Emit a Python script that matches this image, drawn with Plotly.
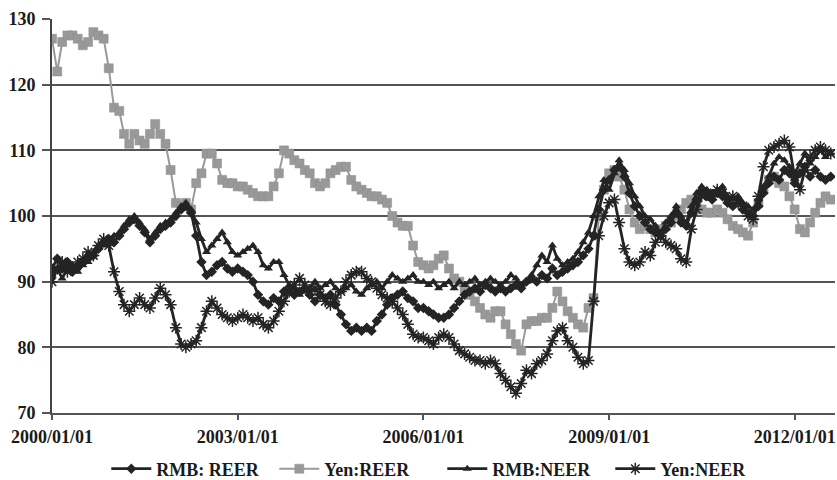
import pandas as pd
import plotly.graph_objects as go

dates = pd.date_range("2000-01-01", periods=152, freq="MS")

rmb_reer = [
    92, 93.5, 92, 93, 91.5, 92.5, 93, 93.5, 94, 95, 96, 96.5,
    96, 97, 98, 99, 99.5, 98.5, 97.5, 96, 97, 98, 98.5, 99,
    100, 101, 101.5, 100.5, 97, 93, 91, 91.5, 92.5, 93, 92, 91.5,
    92, 91.5, 91, 90, 88, 87, 86.5, 87.5, 87, 88.5, 89, 88,
    88.5, 89, 88, 87, 88, 87.5, 88, 86.5, 85, 83.5, 82.5, 83,
    82.5, 83, 82.5, 84, 85, 86.5, 87.5, 88, 88.5, 87.5, 87, 86,
    86, 85.5, 85, 84.5, 84.5, 85, 86, 87, 88, 88.5, 89, 88.5,
    89.5, 89, 88.5, 89, 88.5, 89, 89.5, 89, 90, 90.5, 90, 91,
    90.5, 92, 91, 91.5, 92, 92.5, 93, 94, 95, 97, 101, 104,
    105.5, 107, 107.5, 106, 103.5, 101.5, 100, 99, 98, 97.5, 97, 98,
    99, 100.5, 99, 98.5, 100.5, 102.5, 103.5, 103, 102.5, 103.5, 103, 102,
    101.5, 102.5, 101, 100.5, 100, 101.5, 103.5, 105, 106, 105.5, 107, 106.5,
    105, 106.5, 107.5, 106, 107, 106, 105.5, 106,
]

yen_reer = [
    127, 122, 126.5, 127.5, 127.5, 127, 126, 126.5, 128, 127.5, 127, 122.5,
    116.5, 116, 112.5, 111, 112.5, 111.5, 111, 112.5, 114, 112.5, 111, 107,
    102, 101.5, 102, 101, 105, 106.5, 109.5, 109.5, 108, 105.5, 105, 105,
    104.5, 104.5, 104, 103.5, 103, 103, 103, 104.5, 106.5, 110, 109.5, 108.5,
    108, 107, 106.5, 105, 104.5, 105, 106.5, 107, 107.5, 107.5, 105.5, 104.5,
    104, 103.5, 103, 103, 102.5, 102, 100, 99, 98.5, 98.5, 95.5, 93,
    92.5, 92, 92.5, 93.5, 94, 92, 90.5, 90, 89, 88, 87, 86,
    85, 84.5, 85.5, 85.5, 83.5, 82, 80.5, 79.5, 83.5, 84, 84, 84.5,
    84.5, 86, 88.5, 87, 85.5, 84.5, 83.5, 83, 86, 87.5, 100, 104,
    106.5, 107, 106, 104, 101, 99, 98, 98.5, 98, 97.5, 98, 98.5,
    99, 100, 101, 102, 102.5, 102, 101, 100.5, 100.5, 101, 100.5, 99.5,
    98.5, 98, 97.5, 97, 99, 102, 104, 105.5, 106, 105, 104.5, 103,
    101, 98, 97.5, 99, 100.5, 102, 103, 102.5,
]

rmb_neer = [
    91, 92, 90.5, 92, 92.5, 91.5, 92.5, 93, 94.5, 95.5, 95.5, 96,
    97, 97.5, 98.5, 99.5, 100, 99, 98, 96.5, 97.5, 98.5, 99, 99.5,
    100.5, 101.5, 102, 101, 99, 96.5, 94.5, 95.5, 96.5, 97.5, 96, 94.5,
    94, 94.5, 95, 95.5, 94.5, 92.5, 92, 93, 93, 91, 89.5, 89,
    88, 88.5, 89, 90, 89, 89.5, 90, 89, 88.5, 89, 89.5, 88.5,
    88, 89, 89.5, 90, 89, 90, 91, 90.5, 90, 90.5, 91, 90,
    90, 89.5, 90, 89, 89.5, 90, 89, 90, 89.5, 90, 90.5, 89.5,
    90, 90.5, 90, 89.5, 90, 91, 90.5, 89.5, 90, 91, 92.5, 94,
    93, 95.5, 93.5, 92.5, 93, 93.5, 94.5, 96, 97.5, 100, 103, 105.5,
    104, 106.5, 108.5, 107, 105, 103, 101.5, 100, 99.5, 98.5, 97.5, 99,
    100, 101.5, 100, 99, 101.5, 103.5, 104.5, 104, 103.5, 104, 104.5, 103,
    102.5, 103, 102, 101.5, 101, 102.5, 104.5, 106, 108, 109, 108.5, 107.5,
    106.5, 108, 109.5, 108, 109, 110, 109, 109.5,
]

yen_neer = [
    90, 92, 93, 91.5, 92, 93, 93.5, 94.5, 94, 95.5, 96.5, 95.5,
    91.5, 88.5, 86.5, 85.5, 86.5, 87.5, 86.5, 86, 87.5, 89, 88, 86.5,
    83, 80.5, 80, 80.5, 81, 83, 85.5, 87, 86, 85, 84.5, 84,
    84.5, 85, 84.5, 84, 84.5, 83.5, 83, 84, 85.5, 87, 88.5, 89.5,
    90.5, 89.5, 88.5, 89, 88, 87, 86.5, 87.5, 88.5, 90, 91, 91.5,
    91.5, 90.5, 90, 89, 88, 87.5, 87, 86, 85, 83.5, 82, 81.5,
    81.5, 81, 80.5, 81.5, 82, 81.5, 80.5, 79.5, 79, 78.5, 78, 78,
    77.5, 78, 77.5, 76, 75, 74, 73, 74.5, 76.5, 76, 77.5, 78,
    79, 81, 82.5, 83, 81, 80, 78.5, 77.5, 78, 87, 97, 100,
    102, 102.5, 99, 95, 93, 92.5, 93, 94.5, 94, 96, 97, 96,
    95.5, 95, 93.5, 93, 98, 101, 103, 103.5, 103, 104, 103.5, 102.5,
    103, 102, 101.5, 100, 99.5, 103, 107.5, 110, 110.5, 111, 111.5, 110.5,
    106, 104, 107, 109, 110, 110.5, 110, 109.5,
]

y_ticks = [70, 80, 90, 100, 110, 120, 130]

FONT = "Liberation Serif"
DARK = "#242424"
GRID = "#555555"
TXT = "#1a1a1a"

fig = go.Figure()

fig.add_trace(go.Scatter(
    x=dates, y=yen_reer, name="Yen:REER", mode="lines+markers",
    line=dict(color="#9a9a9a", width=2),
    marker=dict(symbol="square", size=9, color="#999999",
                line=dict(color="#8c8c8c", width=0.5)),
    legendrank=2,
))
fig.add_trace(go.Scatter(
    x=dates, y=rmb_reer, name="RMB: REER", mode="lines+markers",
    line=dict(color=DARK, width=2.8),
    marker=dict(symbol="diamond", size=8, color=DARK),
    legendrank=1,
))
fig.add_trace(go.Scatter(
    x=dates, y=rmb_neer, name="RMB:NEER", mode="lines+markers",
    line=dict(color=DARK, width=2.8),
    marker=dict(symbol="triangle-up", size=8, color=DARK),
    legendrank=3,
))
fig.add_trace(go.Scatter(
    x=dates, y=yen_neer, name="Yen:NEER", mode="lines+markers",
    line=dict(color=DARK, width=2.8),
    marker=dict(symbol="asterisk-open", size=10,
                line=dict(color=DARK, width=1.5)),
    legendrank=4,
))

fig.update_layout(
    width=837, height=480,
    margin=dict(l=52, r=2, t=19, b=67, autoexpand=False),
    paper_bgcolor="white", plot_bgcolor="white",
    font=dict(family=FONT, size=18, color=TXT, weight="bold"),
    showlegend=True,
    legend=dict(orientation="h", xref="container", yref="container",
                x=0.127, xanchor="left",
                y=0.0229, yanchor="middle",
                font=dict(family=FONT, size=18, color=TXT, weight="bold"),
                itemwidth=40, tracegroupgap=0, entrywidth=113),
)

fig.update_xaxes(
    range=["2000-01-01", "2012-08-26"],
    tickmode="linear", tick0="2000-01-01", dtick="M36",
    tickformat="%Y/%m/%d",
    ticks="outside", ticklen=5, tickcolor=GRID, tickwidth=1.5,
    showgrid=False, showline=True, linecolor=GRID, linewidth=1.6,
    zeroline=False, automargin=False, ticklabelstandoff=2,
    tickfont=dict(family=FONT, size=18, color=TXT, weight="bold"),
)
fig.update_yaxes(
    range=[70, 130], tickmode="array", tickvals=y_ticks,
    ticktext=[str(v) for v in y_ticks],
    showgrid=True, gridcolor=GRID, gridwidth=1.6,
    ticks="outside", ticklen=8, tickcolor=GRID, tickwidth=1.5,
    showline=True, linecolor="#444444", linewidth=1.6,
    zeroline=False, automargin=False, ticklabelstandoff=3,
    tickfont=dict(family=FONT, size=18, color=TXT, weight="bold"),
)

fig.write_html(
    "out.html",
    config={"displayModeBar": False},
    post_script="document.body.style.margin='0';document.body.style.overflow='hidden';",
)
